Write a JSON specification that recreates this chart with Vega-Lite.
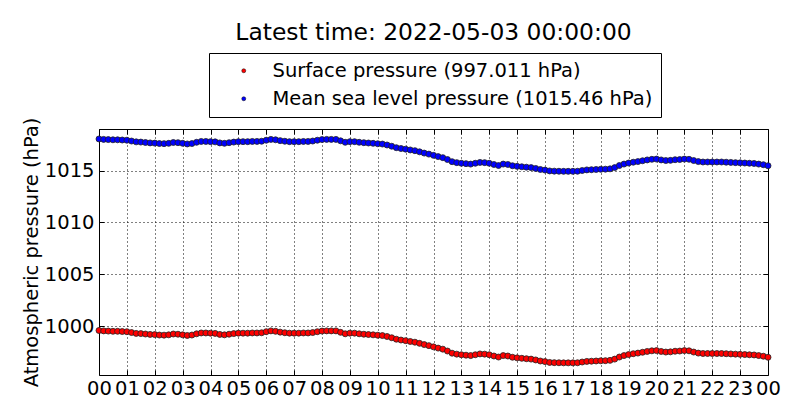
{
  "$schema": "https://vega.github.io/schema/vega-lite/v6.json",
  "width": 669,
  "height": 246,
  "autosize": {"type": "none"},
  "padding": {"left": 99, "top": 129, "right": 32, "bottom": 45},
  "background": "white",
  "title": {"text": "Latest time: 2022-05-03 00:00:00", "fontSize": 23.4, "font": "DejaVu Sans", "fontWeight": "normal", "color": "black", "anchor": "middle", "offset": 7},
  "config": {
    "view": {"stroke": "black", "strokeWidth": 1},
    "axis": {"labelFont": "DejaVu Sans", "labelFontSize": 19.5, "labelColor": "black", "titleFont": "DejaVu Sans", "titleFontSize": 19.5, "titleFontWeight": "normal", "titleColor": "black", "domain": false, "gridColor": "black", "gridDash": [1, 3], "gridWidth": 1, "gridOpacity": 1, "tickColor": "black", "tickSize": -5, "tickWidth": 1}
  },
  "data": {"values": [
    {"m":0,"msl":1018.04,"sp":999.59},{"m":10,"msl":1018.00,"sp":999.55},{"m":20,"msl":1017.98,"sp":999.53},{"m":30,"msl":1017.96,"sp":999.51},{"m":40,"msl":1017.96,"sp":999.51},{"m":50,"msl":1017.94,"sp":999.49},
    {"m":60,"msl":1017.92,"sp":999.47},{"m":70,"msl":1017.84,"sp":999.39},{"m":80,"msl":1017.76,"sp":999.31},{"m":90,"msl":1017.74,"sp":999.29},{"m":100,"msl":1017.70,"sp":999.25},{"m":110,"msl":1017.66,"sp":999.21},
    {"m":120,"msl":1017.64,"sp":999.19},{"m":130,"msl":1017.60,"sp":999.15},{"m":140,"msl":1017.59,"sp":999.14},{"m":150,"msl":1017.62,"sp":999.17},{"m":160,"msl":1017.70,"sp":999.25},{"m":170,"msl":1017.68,"sp":999.23},
    {"m":180,"msl":1017.62,"sp":999.17},{"m":190,"msl":1017.56,"sp":999.11},{"m":200,"msl":1017.60,"sp":999.15},{"m":210,"msl":1017.72,"sp":999.27},{"m":220,"msl":1017.80,"sp":999.35},{"m":230,"msl":1017.80,"sp":999.35},
    {"m":240,"msl":1017.78,"sp":999.33},{"m":250,"msl":1017.76,"sp":999.31},{"m":260,"msl":1017.66,"sp":999.21},{"m":270,"msl":1017.62,"sp":999.17},{"m":280,"msl":1017.68,"sp":999.23},{"m":290,"msl":1017.74,"sp":999.29},
    {"m":300,"msl":1017.78,"sp":999.33},{"m":310,"msl":1017.78,"sp":999.33},{"m":320,"msl":1017.78,"sp":999.33},{"m":330,"msl":1017.80,"sp":999.35},{"m":340,"msl":1017.80,"sp":999.35},{"m":350,"msl":1017.82,"sp":999.37},
    {"m":360,"msl":1017.92,"sp":999.47},{"m":370,"msl":1018.00,"sp":999.55},{"m":380,"msl":1017.96,"sp":999.51},{"m":390,"msl":1017.88,"sp":999.43},{"m":400,"msl":1017.82,"sp":999.37},{"m":410,"msl":1017.78,"sp":999.33},
    {"m":420,"msl":1017.78,"sp":999.33},{"m":430,"msl":1017.78,"sp":999.33},{"m":440,"msl":1017.80,"sp":999.35},{"m":450,"msl":1017.80,"sp":999.35},{"m":460,"msl":1017.84,"sp":999.39},{"m":470,"msl":1017.92,"sp":999.47},
    {"m":480,"msl":1017.98,"sp":999.53},{"m":490,"msl":1018.00,"sp":999.55},{"m":500,"msl":1018.00,"sp":999.55},{"m":510,"msl":1018.00,"sp":999.55},{"m":520,"msl":1017.86,"sp":999.41},{"m":530,"msl":1017.72,"sp":999.27},
    {"m":540,"msl":1017.78,"sp":999.33},{"m":550,"msl":1017.78,"sp":999.33},{"m":560,"msl":1017.72,"sp":999.27},{"m":570,"msl":1017.68,"sp":999.23},{"m":580,"msl":1017.65,"sp":999.20},{"m":590,"msl":1017.62,"sp":999.17},
    {"m":600,"msl":1017.58,"sp":999.13},{"m":610,"msl":1017.55,"sp":999.10},{"m":620,"msl":1017.46,"sp":999.01},{"m":630,"msl":1017.34,"sp":998.89},{"m":640,"msl":1017.20,"sp":998.75},{"m":650,"msl":1017.12,"sp":998.67},
    {"m":660,"msl":1017.06,"sp":998.61},{"m":670,"msl":1016.98,"sp":998.53},{"m":680,"msl":1016.91,"sp":998.46},{"m":690,"msl":1016.80,"sp":998.35},{"m":700,"msl":1016.68,"sp":998.23},{"m":710,"msl":1016.58,"sp":998.13},
    {"m":720,"msl":1016.46,"sp":998.01},{"m":730,"msl":1016.34,"sp":997.89},{"m":740,"msl":1016.24,"sp":997.79},{"m":750,"msl":1016.06,"sp":997.61},{"m":760,"msl":1015.85,"sp":997.40},{"m":770,"msl":1015.76,"sp":997.31},
    {"m":780,"msl":1015.70,"sp":997.25},{"m":790,"msl":1015.66,"sp":997.21},{"m":800,"msl":1015.62,"sp":997.17},{"m":810,"msl":1015.70,"sp":997.25},{"m":820,"msl":1015.78,"sp":997.33},{"m":830,"msl":1015.76,"sp":997.31},
    {"m":840,"msl":1015.70,"sp":997.25},{"m":850,"msl":1015.58,"sp":997.13},{"m":860,"msl":1015.48,"sp":997.03},{"m":870,"msl":1015.62,"sp":997.17},{"m":880,"msl":1015.58,"sp":997.13},{"m":890,"msl":1015.46,"sp":997.01},
    {"m":900,"msl":1015.40,"sp":996.95},{"m":910,"msl":1015.36,"sp":996.91},{"m":920,"msl":1015.32,"sp":996.87},{"m":930,"msl":1015.28,"sp":996.83},{"m":940,"msl":1015.20,"sp":996.75},{"m":950,"msl":1015.10,"sp":996.65},
    {"m":960,"msl":1015.04,"sp":996.59},{"m":970,"msl":1014.96,"sp":996.51},{"m":980,"msl":1014.94,"sp":996.49},{"m":990,"msl":1014.93,"sp":996.48},{"m":1000,"msl":1014.92,"sp":996.47},{"m":1010,"msl":1014.92,"sp":996.47},
    {"m":1020,"msl":1014.92,"sp":996.47},{"m":1030,"msl":1014.93,"sp":996.48},{"m":1040,"msl":1015.00,"sp":996.55},{"m":1050,"msl":1015.06,"sp":996.61},{"m":1060,"msl":1015.08,"sp":996.63},{"m":1070,"msl":1015.10,"sp":996.65},
    {"m":1080,"msl":1015.12,"sp":996.67},{"m":1090,"msl":1015.13,"sp":996.68},{"m":1100,"msl":1015.16,"sp":996.71},{"m":1110,"msl":1015.28,"sp":996.83},{"m":1120,"msl":1015.48,"sp":997.03},{"m":1130,"msl":1015.62,"sp":997.17},
    {"m":1140,"msl":1015.72,"sp":997.27},{"m":1150,"msl":1015.80,"sp":997.35},{"m":1160,"msl":1015.86,"sp":997.41},{"m":1170,"msl":1015.94,"sp":997.49},{"m":1180,"msl":1016.02,"sp":997.57},{"m":1190,"msl":1016.08,"sp":997.63},
    {"m":1200,"msl":1016.10,"sp":997.65},{"m":1210,"msl":1016.02,"sp":997.57},{"m":1220,"msl":1015.96,"sp":997.51},{"m":1230,"msl":1015.98,"sp":997.53},{"m":1240,"msl":1016.04,"sp":997.59},{"m":1250,"msl":1016.06,"sp":997.61},
    {"m":1260,"msl":1016.10,"sp":997.65},{"m":1270,"msl":1016.08,"sp":997.63},{"m":1280,"msl":1015.96,"sp":997.51},{"m":1290,"msl":1015.86,"sp":997.41},{"m":1300,"msl":1015.82,"sp":997.37},{"m":1310,"msl":1015.82,"sp":997.37},
    {"m":1320,"msl":1015.82,"sp":997.37},{"m":1330,"msl":1015.82,"sp":997.37},{"m":1340,"msl":1015.82,"sp":997.37},{"m":1350,"msl":1015.80,"sp":997.35},{"m":1360,"msl":1015.78,"sp":997.33},{"m":1370,"msl":1015.76,"sp":997.31},
    {"m":1380,"msl":1015.74,"sp":997.29},{"m":1390,"msl":1015.72,"sp":997.27},{"m":1400,"msl":1015.70,"sp":997.25},{"m":1410,"msl":1015.68,"sp":997.23},{"m":1420,"msl":1015.62,"sp":997.17},{"m":1430,"msl":1015.56,"sp":997.11},
    {"m":1440,"msl":1015.46,"sp":997.01}
  ]},
  "transform": [{"fold": ["sp", "msl"], "as": ["series", "pressure"]}],
  "layer": [
    {
      "mark": {"type": "point", "filled": true, "shape": "circle", "size": 36, "stroke": "#222222", "strokeWidth": 0.8, "opacity": 1},
      "encoding": {
        "x": {"field": "m", "type": "quantitative", "scale": {"domain": [0, 1440], "nice": false, "zero": false},
              "axis": {"orient": "bottom", "title": null, "values": [0,60,120,180,240,300,360,420,480,540,600,660,720,780,840,900,960,1020,1080,1140,1200,1260,1320,1380,1440],
                       "labelExpr": "(floor(datum.value/60)%24 < 10 ? '0' : '') + (floor(datum.value/60)%24)", "labelPadding": 9, "labelFlush": false, "labelOverlap": false}},
        "y": {"field": "pressure", "type": "quantitative", "scale": {"domain": [995.3, 1019.0], "nice": false, "zero": false},
              "axis": {"orient": "left", "title": "Atmospheric pressure (hPa)", "format": "d", "values": [1000, 1005, 1010, 1015], "labelPadding": 10, "titlePadding": 3}},
        "fill": {"field": "series", "type": "nominal", "scale": {"domain": ["sp", "msl"], "range": ["#ff0000", "#0000ff"]},
                 "legend": {"orient": "none", "legendX": 110, "legendY": -76, "title": null, "direction": "vertical",
                            "labelExpr": "datum.label == 'sp' ? 'Surface pressure (997.011 hPa)' : 'Mean sea level pressure (1015.46 hPa)'",
                            "labelFont": "DejaVu Sans", "labelFontSize": 19.5, "labelColor": "black", "symbolType": "circle", "symbolSize": 16,
                            "symbolStrokeColor": "black", "symbolStrokeWidth": 0.5, "symbolOffset": 17, "labelOffset": 19, "rowPadding": 7,
                            "padding": 8, "strokeColor": "black", "fillColor": "white", "cornerRadius": 0, "labelLimit": 500}}
      }
    },
    {
      "mark": {"type": "point", "opacity": 0},
      "encoding": {
        "x": {"field": "m", "type": "quantitative", "axis": {"orient": "top", "labels": false, "grid": false, "title": null, "values": [0,60,120,180,240,300,360,420,480,540,600,660,720,780,840,900,960,1020,1080,1140,1200,1260,1320,1380,1440]}},
        "y": {"field": "pressure", "type": "quantitative", "axis": {"orient": "right", "labels": false, "grid": false, "title": null, "values": [1000, 1005, 1010, 1015]}}
      }
    }
  ],
  "resolve": {"axis": {"x": "independent", "y": "independent"}}
}
